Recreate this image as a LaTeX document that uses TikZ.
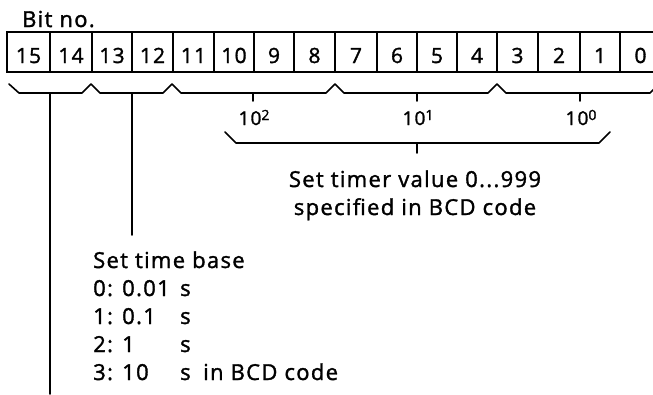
\documentclass[tikz,border=0pt]{standalone}
\usepackage{fontspec}
\setmainfont{Open Sans}[LetterSpace=6,FakeBold=1.5]
\begin{document}
\begin{tikzpicture}[x=1pt,y=-1pt,
  ln/.style={line width=1.6pt, line join=round, line cap=round},
  cell/.style={draw, line width=1.7pt, inner sep=0pt, minimum height=40pt,
    text height=22pt, text depth=0pt, font=\fontsize{21}{24}\selectfont},
  txt/.style={inner sep=0pt, anchor=base west, align=left, font=\fontsize{22}{28}\selectfont},
  ctxt/.style={inner sep=0pt, anchor=base, align=center, font=\fontsize{22}{28}\selectfont},
  pow/.style={inner sep=0pt, anchor=base, font=\fontsize{19}{22}\selectfont},
]
\useasboundingbox (0,0) rectangle (653,394);
\clip (0,0) rectangle (653,394);
\newcommand{\sexp}[1]{\raisebox{5pt}{\fontsize{14}{14}\selectfont #1}}

\node[txt] (bitno) at (22,27) {Bit no.};

\foreach \l/\r/\n in {7/50/15, 50/92/14, 92/132/13, 132/173/12, 173/214/11,
  214/254/10, 254/294/9, 294/335/8, 335/377/7, 377/417/6, 417/457/5,
  457/497/4, 497/538/3, 538/580/2, 580/620/1, 620/661/0}
  \node[cell, minimum width={(\r-\l)*1pt}] (b\n) at ({(\l+\r)/2},52) {\n};

% braces under the bits
\draw[ln] (9,84) -- (19,93) -- (82,93) -- (91,84)
  -- (100,93) -- (163,93) -- (172,84)
  -- (181,93) -- (326,93) -- (335,84)
  -- (344,93) -- (488,93) -- (497,84)
  -- (506,93) -- (650,93) -- (659,84);
\coordinate (c15) at (50,93);
\coordinate (c13) at (132,93);
\coordinate (c2) at (253,93);
\coordinate (c1) at (417,93);
\coordinate (c0) at (580,93);

\node[pow] (p2) at (254,125) {10\sexp{2}};
\node[pow] (p1) at (418,125) {10\sexp{1}};
\node[pow] (p0) at (581,125) {10\sexp{0}};
\draw[ln] (c2) -- ++(0,8);
\draw[ln] (c1) -- ++(0,8);
\draw[ln] (c0) -- ++(0,8);

% big brace
\draw[ln] (225,132) -- (236,143) -- (599,143) -- (610,132);
\coordinate (cb) at (417,143);
\coordinate (cbe) at (417,153);
\draw[ln] (cb) -- (cbe);

\node[ctxt] (timer) at (415,215) {Set timer value 0...999\\specified in BCD code};

\node[txt] (base) at (93,380) {Set time base\\
\makebox[29pt][l]{0:}\makebox[58pt][l]{0.01}s\\
\makebox[29pt][l]{1:}\makebox[58pt][l]{0.1}s\\
\makebox[29pt][l]{2:}\makebox[58pt][l]{1}s\\
\makebox[29pt][l]{3:}\makebox[58pt][l]{10}\makebox[23pt][l]{s}in BCD code};

\coordinate (e13) at (132,235);
\coordinate (e15) at (50,394);
\draw[ln] (c13) -- (e13);
\draw[ln] (c15) -- (e15);
\end{tikzpicture}
\end{document}
